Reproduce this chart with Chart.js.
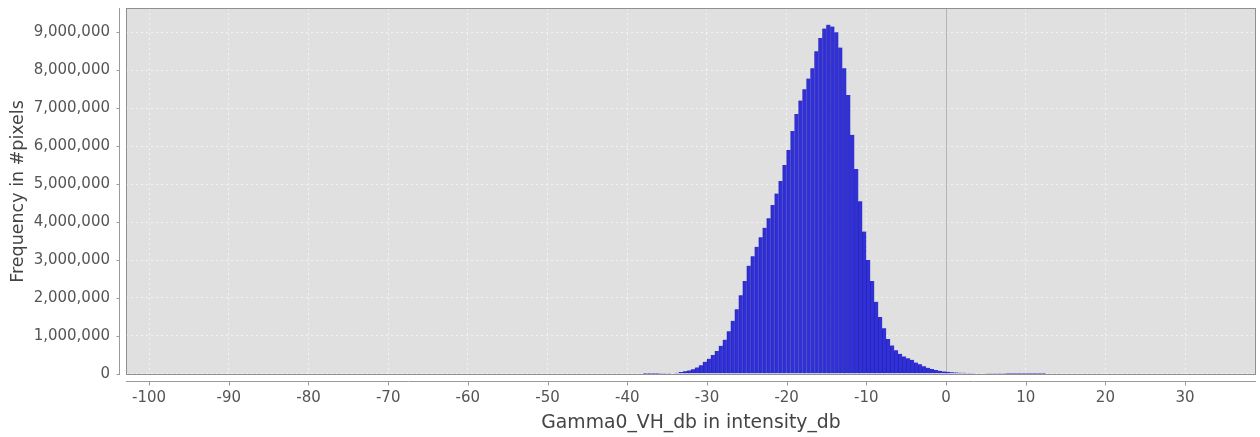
<!DOCTYPE html>
<html>
<head>
<meta charset="utf-8">
<script src="https://cdn.jsdelivr.net/npm/chart.js@4/dist/chart.umd.min.js"></script>
<style>
  html, body { margin: 0; padding: 0; background: #ffffff; }
  #histo { display: block; }
</style>
</head>
<body>
<canvas id="histo" width="1260" height="437"></canvas>
<script>
// histogram bins (centre of each 0.5 dB bin) and pixel counts
const binCenters = [
  -37.75, -37.25, -36.75, -36.25, -35.75, -35.25, -34.75, -34.25, -33.75, -33.25,
  -32.75, -32.25, -31.75, -31.25, -30.75, -30.25, -29.75, -29.25, -28.75, -28.25,
  -27.75, -27.25, -26.75, -26.25, -25.75, -25.25, -24.75, -24.25, -23.75, -23.25,
  -22.75, -22.25, -21.75, -21.25, -20.75, -20.25, -19.75, -19.25, -18.75, -18.25,
  -17.75, -17.25, -16.75, -16.25, -15.75, -15.25, -14.75, -14.25, -13.75, -13.25,
  -12.75, -12.25, -11.75, -11.25, -10.75, -10.25, -9.75, -9.25, -8.75, -8.25,
  -7.75, -7.25, -6.75, -6.25, -5.75, -5.25, -4.75, -4.25, -3.75, -3.25,
  -2.75, -2.25, -1.75, -1.25, -0.75, -0.25, 0.25, 0.75, 1.25, 1.75,
  2.25, 2.75, 3.25, 3.75, 4.25, 4.75, 5.25, 5.75, 6.25, 6.75,
  7.25, 7.75, 8.25, 8.75, 9.25, 9.75, 10.25, 10.75, 11.25, 11.75, 12.25
];
const pixelCounts = [
  2000, 3000, 4000, 5000, 7000, 9000, 12000, 18000, 30000, 50000,
  70000, 90000, 120000, 170000, 230000, 320000, 400000, 500000, 600000, 740000,
  900000, 1120000, 1400000, 1700000, 2070000, 2450000, 2850000, 3100000, 3350000, 3600000,
  3850000, 4100000, 4450000, 4750000, 5080000, 5500000, 5900000, 6400000, 6850000, 7200000,
  7500000, 7780000, 8050000, 8500000, 8850000, 9100000, 9200000, 9150000, 9000000, 8600000,
  8050000, 7350000, 6300000, 5400000, 4550000, 3750000, 3000000, 2450000, 1900000, 1500000,
  1200000, 920000, 750000, 620000, 530000, 460000, 410000, 370000, 300000, 250000,
  200000, 160000, 130000, 100000, 80000, 65000, 55000, 45000, 38000, 32000,
  27000, 23000, 20000, 17000, 15000, 13000, 11000, 10000, 9000, 8000,
  7000, 6000, 5000, 5000, 4000, 4000, 3000, 3000, 2000, 2000, 2000
];

const xTickValues = [-100, -90, -80, -70, -60, -50, -40, -30, -20, -10, 0, 10, 20, 30];
const yTickValues = [0, 1000000, 2000000, 3000000, 4000000, 5000000, 6000000, 7000000, 8000000, 9000000];

const xRange = [-102.9, 38.9];
const yRange = [-30000, 9640000];
const markerAt = 0;

const xTitle = 'Gamma0_VH_db in intensity_db';
const yTitle = 'Frequency in #pixels';

const FONT = 'DejaVu Sans';
const tickColor = '#555555';
const titleColor = '#444444';
const axisColor = '#9a9a9a';
const gridColor = 'rgba(255,255,255,0.6)';

// plot background, frame, detached axis lines and tick marks (JFreeChart look)
const plotFrame = {
  id: 'plotFrame',
  beforeDraw(chart) {
    const { ctx, chartArea: a } = chart;
    ctx.save();
    ctx.fillStyle = '#e0e0e0';
    ctx.fillRect(a.left, a.top, a.right - a.left, a.bottom - a.top);
    ctx.restore();
  },
  beforeDatasetsDraw(chart) {
    const { ctx, chartArea: a } = chart;
    const px = Math.round(chart.scales.x.getPixelForValue(markerAt)) + 0.5;
    ctx.save();
    ctx.strokeStyle = '#b4b4b4';
    ctx.lineWidth = 1;
    ctx.beginPath();
    ctx.moveTo(px, a.top);
    ctx.lineTo(px, a.bottom);
    ctx.stroke();
    ctx.restore();
  },
  afterDatasetsDraw(chart) {
    const { ctx, chartArea: a, scales } = chart;
    ctx.save();
    ctx.strokeStyle = '#8f8f8f';
    ctx.lineWidth = 1;
    ctx.strokeRect(a.left + 0.5, a.top + 0.5, a.right - a.left - 1, a.bottom - a.top - 1);

    // axis lines sit a few px away from the plot
    const ax = a.left - 6.5;
    const ay = a.bottom + 6.5;
    ctx.strokeStyle = axisColor;
    ctx.beginPath();
    ctx.moveTo(ax, a.top);
    ctx.lineTo(ax, a.bottom);
    ctx.moveTo(a.left, ay);
    ctx.lineTo(a.right, ay);
    yTickValues.forEach(v => {
      const y = Math.round(scales.y.getPixelForValue(v)) + 0.5;
      ctx.moveTo(ax - 3, y);
      ctx.lineTo(ax, y);
    });
    xTickValues.forEach(v => {
      const x = Math.round(scales.x.getPixelForValue(v)) + 0.5;
      ctx.moveTo(x, ay);
      ctx.lineTo(x, ay + 4);
    });
    ctx.stroke();
    ctx.restore();
  }
};

const ctx = document.getElementById('histo').getContext('2d');
new Chart(ctx, {
  type: 'bar',
  data: {
    datasets: [{
      label: yTitle,
      data: binCenters.map((c, i) => ({ x: c, y: pixelCounts[i] })),
      backgroundColor: '#3030d6',
      borderColor: '#2626b8',
      borderWidth: { left: 1, right: 0, top: 0, bottom: 0 },
      borderSkipped: false,
      barPercentage: 1,
      categoryPercentage: 1
    }]
  },
  options: {
    responsive: false,
    animation: false,
    layout: { padding: { top: 8, right: 4, left: 0, bottom: 0 } },
    plugins: {
      legend: { display: false },
      tooltip: { enabled: false }
    },
    scales: {
      x: {
        type: 'linear',
        offset: false,
        min: xRange[0],
        max: xRange[1],
        afterBuildTicks: s => { s.ticks = xTickValues.map(v => ({ value: v })); },
        afterFit: s => { s.height = 62; s.paddingLeft = 0; s.paddingRight = 0; },
        grid: { color: gridColor, drawTicks: false, lineWidth: 1, offset: false },
        border: { display: false, dash: [2, 3] },
        ticks: {
          padding: 14,
          color: tickColor,
          font: { family: FONT, size: 15 },
          maxRotation: 0,
          autoSkip: false
        },
        title: {
          display: true,
          text: xTitle,
          color: titleColor,
          font: { family: FONT, size: 18.8 },
          padding: { top: 0, bottom: 3 }
        }
      },
      y: {
        type: 'linear',
        min: yRange[0],
        max: yRange[1],
        afterBuildTicks: s => { s.ticks = yTickValues.map(v => ({ value: v })); },
        afterFit: s => { s.width = 126; s.paddingTop = 0; s.paddingBottom = 0; },
        grid: { color: gridColor, drawTicks: false, lineWidth: 1 },
        border: { display: false, dash: [2, 3] },
        ticks: {
          padding: 16,
          color: tickColor,
          font: { family: FONT, size: 15 },
          callback: v => Number(v).toLocaleString('en-US')
        },
        title: {
          display: true,
          text: yTitle,
          color: titleColor,
          font: { family: FONT, size: 17.5 },
          padding: { top: 8, bottom: 0 }
        }
      }
    }
  },
  plugins: [plotFrame]
});
</script>
</body>
</html>
